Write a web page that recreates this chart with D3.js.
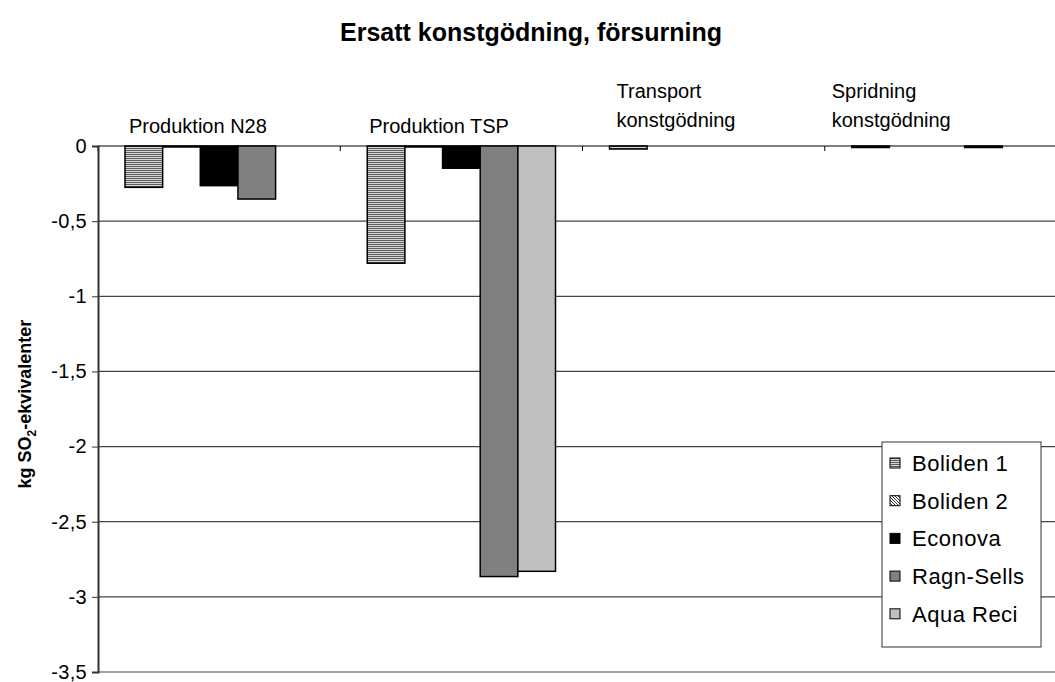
<!DOCTYPE html>
<html><head><meta charset="utf-8">
<script src="https://cdn.jsdelivr.net/npm/d3@7"></script>
<style>body{margin:0;background:#fff}svg{display:block}text{font-family:"Liberation Sans",Arial,sans-serif}</style>
</head><body>
<svg id="c" width="1055" height="682"></svg>
<script>
const title = "Ersatt konstgödning, försurning";
const categories = [["Produktion N28"], ["Produktion TSP"], ["Transport", "konstgödning"], ["Spridning", "konstgödning"]];
const seriesNames = ["Boliden 1", "Boliden 2", "Econova", "Ragn-Sells", "Aqua Reci"];
const boliden1 = [-0.275, -0.78, -0.02, -0.01];
const boliden2 = [-0.005, -0.005, 0, 0];
const econova = [-0.264, -0.148, 0, 0];
const ragnSells = [-0.353, -2.865, 0, -0.01];
const aquaReci = [0, -2.83, 0, 0];
const yTicks = [0, -0.5, -1, -1.5, -2, -2.5, -3, -3.5];
const seriesValues = [boliden1, boliden2, econova, ragnSells, aquaReci];

// label layout: left offset of each category label inside its band
const labelOffset = [31, 29, 34, 7];

const svg = d3.select("#c");
const defs = svg.append("defs");
const p1 = defs.append("pattern").attr("id","hstripe").attr("patternUnits","userSpaceOnUse").attr("width",4).attr("height",2);
p1.append("rect").attr("width",4).attr("height",2).attr("fill","#d4d4d4");
p1.append("rect").attr("width",4).attr("height",1).attr("y",0).attr("fill","#606060");
const p2 = defs.append("pattern").attr("id","dhatch").attr("patternUnits","userSpaceOnUse").attr("width",3).attr("height",3);
p2.append("rect").attr("width",3).attr("height",3).attr("fill","#fff");
p2.append("rect").attr("width",1).attr("height",1).attr("x",0).attr("y",0).attr("fill","#333");
p2.append("rect").attr("width",1).attr("height",1).attr("x",1).attr("y",1).attr("fill","#333");
p2.append("rect").attr("width",1).attr("height",1).attr("x",2).attr("y",2).attr("fill","#333");
const fills = ["url(#hstripe)", "url(#dhatch)", "#000000", "#808080", "#c0c0c0"];

const pLeft = 98, pRight = 1067, pTop = 146, pBottom = 672;
const x0 = d3.scaleBand().domain(d3.range(categories.length)).range([pLeft, pRight]);
const x1 = d3.scaleBand().domain(d3.range(seriesNames.length)).range([27, x0.bandwidth() - 27]);
const y = d3.scaleLinear().domain([-3.5, 0]).range([pBottom, pTop]);

// gridlines
svg.append("g").selectAll("line").data(yTicks).join("line")
  .attr("x1", pLeft).attr("x2", pRight).attr("y1", d => y(d)).attr("y2", d => y(d))
  .attr("stroke", d => d === 0 ? "#000" : "#444").attr("stroke-width", 1.2);

// bars
const g = svg.append("g");
categories.forEach((c, ci) => {
  seriesValues.forEach((vals, si) => {
    const v = vals[ci];
    if (v === 0) return;
    const x = x0(ci) + x1(si);
    g.append("rect").attr("x", x).attr("width", x1.bandwidth())
      .attr("y", y(0)).attr("height", Math.max(y(v) - y(0), 1))
      .attr("fill", fills[si]).attr("stroke", "#000").attr("stroke-width", 1.5);
  });
});

// category ticks
svg.append("g").selectAll("line").data(d3.range(categories.length + 1)).join("line")
  .attr("x1", i => pLeft + i * x0.bandwidth()).attr("x2", i => pLeft + i * x0.bandwidth())
  .attr("y1", pTop).attr("y2", pTop + 5).attr("stroke", "#000");

// y axis
const yAxis = d3.axisLeft(y).tickValues(yTicks).tickSize(6).tickPadding(5)
  .tickFormat(d => String(d).replace(".", ","));
const ya = svg.append("g").attr("transform", `translate(${pLeft},0)`).call(yAxis);
ya.select(".domain").attr("stroke", "#333").attr("stroke-width", 2);
ya.selectAll(".tick line").attr("stroke", "#333");
ya.selectAll(".tick text").attr("font-size", 20).attr("fill", "#000").attr("letter-spacing", 0.3);

// category labels
categories.forEach((lines, ci) => {
  const lx = x0(ci) + labelOffset[ci];
  if (lines.length === 1) {
    svg.append("text").attr("x", lx).attr("y", 133).attr("font-size", 20).text(lines[0]);
  } else {
    const t = svg.append("text").attr("y", 98).attr("font-size", 20);
    lines.forEach((l, li) => t.append("tspan").attr("x", lx).attr("dy", li ? 29 : 0).text(l));
  }
});

// title
svg.append("text").attr("x", 531).attr("y", 41).attr("text-anchor", "middle")
  .attr("font-size", 25).attr("font-weight", "bold").text(title);

// y label
const yl = svg.append("text").attr("transform", "translate(31,404) rotate(-90)")
  .attr("text-anchor", "middle").attr("font-size", 18).attr("font-weight", "bold");
yl.append("tspan").text("kg SO");
yl.append("tspan").attr("font-size", 12).attr("dy", 5).text("2");
yl.append("tspan").attr("dy", -5).text("-ekvivalenter");

// legend
const lg = svg.append("g");
lg.append("rect").attr("x", 882).attr("y", 442).attr("width", 159).attr("height", 205)
  .attr("fill", "#fff").attr("stroke", "#333").attr("stroke-width", 1);
seriesNames.forEach((n, i) => {
  const cy = 463 + i * 37.7;
  lg.append("rect").attr("x", 890).attr("y", cy - 5).attr("width", 10).attr("height", 10)
    .attr("fill", fills[i]).attr("stroke", "#000").attr("stroke-width", 1);
  lg.append("text").attr("x", 912).attr("y", cy + 8).attr("font-size", 22).attr("letter-spacing", 0.5).text(n);
});
</script>
</body></html>
